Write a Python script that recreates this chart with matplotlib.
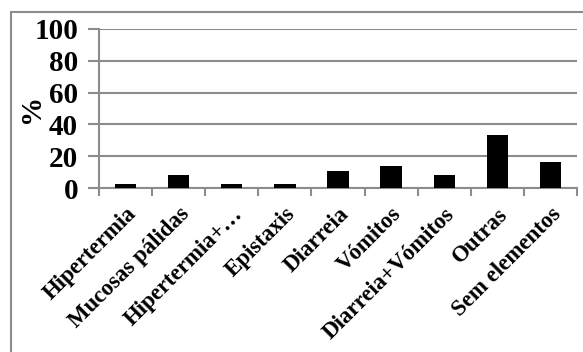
import matplotlib.pyplot as plt
from matplotlib.patches import Rectangle

categorias = ["Hipertermia", "Mucosas pálidas", "Hipertermia+…", "Epistaxis",
              "Diarreia", "Vómitos", "Diarreia+Vómitos", "Outras", "Sem elementos"]
percentagens = [2.8, 8.3, 2.8, 2.8, 11.1, 13.9, 8.3, 33.3, 16.7]
yticks = [0, 20, 40, 60, 80, 100]

plt.rcParams['font.family'] = ['Liberation Serif', 'DejaVu Serif']
plt.rcParams['font.weight'] = 'bold'

fig = plt.figure(figsize=(5.83, 3.52), dpi=100)
ax = fig.add_axes([99/583, 1 - 188.3/352, (577-99)/583, (188.3-28.7)/352])

# moldura exterior
fig.patches.append(Rectangle((11/583, -0.1), 1.2, 1 - 12/352 + 0.1,
                             transform=fig.transFigure, fill=False,
                             edgecolor='#8c8c8c', linewidth=1.5))

x = range(len(categorias))
ax.bar(x, percentagens, width=0.4, color='black', zorder=3)

ax.set_ylim(0, 100)
ax.set_xlim(-0.5, len(categorias) - 0.5)
ax.set_yticks(yticks)
ax.set_yticklabels([str(v) for v in yticks], fontsize=21, fontweight='bold')
ax.yaxis.grid(True, color='#8c8c8c', linewidth=1.5, zorder=0)
ax.set_axisbelow(True)

ax.set_xticks([i + 0.5 for i in range(-1, len(categorias))], minor=False)
ax.set_xticklabels([])
ax.set_xticks(list(x), minor=True)
ax.set_xticklabels(categorias, minor=True, rotation=45, ha='right',
                   rotation_mode='anchor', fontsize=16.5, fontweight='bold')
ax.tick_params(axis='x', which='minor', length=0, pad=11)
ax.tick_params(axis='x', which='major', length=6, width=1.5, color='#8c8c8c')
ax.tick_params(axis='y', length=8, width=1.5, color='#8c8c8c', pad=7)

for s in ['top', 'right']:
    ax.spines[s].set_visible(False)
for s in ['left', 'bottom']:
    ax.spines[s].set_color('#8c8c8c')
    ax.spines[s].set_linewidth(1.5)

ax.set_ylabel('%', fontsize=21, fontweight='bold', labelpad=-8)

fig.savefig('out.png', dpi=100)
